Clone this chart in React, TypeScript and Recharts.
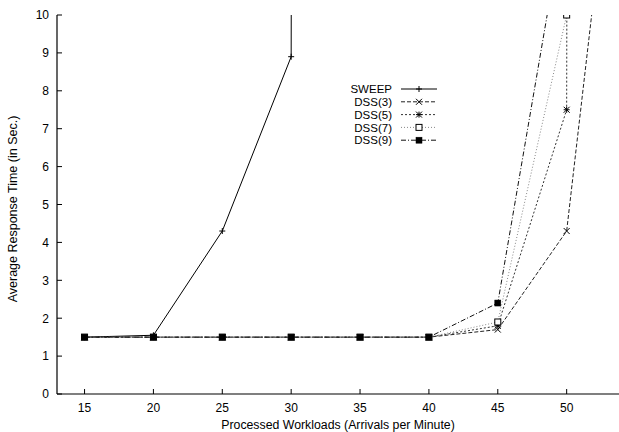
import React from 'react';
import { LineChart, Line, XAxis, YAxis, Legend } from 'recharts';

const xValues = [15, 20, 25, 30, 35, 40, 45, 50, 55];
const sweep = [1.5, 1.55, 4.3, 8.9, 1000, null, null, null, null];
const dss3 = [1.5, 1.5, 1.5, 1.5, 1.5, 1.5, 1.7, 4.3, 20];
const dss5 = [1.5, 1.5, 1.5, 1.5, 1.5, 1.5, 1.8, 7.5, 1000];
const dss7 = [1.5, 1.5, 1.5, 1.5, 1.5, 1.5, 1.9, 10, 60];
const dss9 = [1.5, 1.5, 1.5, 1.5, 1.5, 1.5, 2.4, 13, null];
const xTicks = [15, 20, 25, 30, 35, 40, 45, 50];
const yTicks = [0, 1, 2, 3, 4, 5, 6, 7, 8, 9, 10];

const data = xValues.map((x, i) => ({
  x,
  sweep: sweep[i],
  dss3: dss3[i],
  dss5: dss5[i],
  dss7: dss7[i],
  dss9: dss9[i],
}));

const FONT = '"Liberation Sans", Arial, sans-serif';

type MarkerKind = 'plus' | 'cross' | 'star' | 'openSquare' | 'square';

const drawMarker = (kind: MarkerKind, cx: number, cy: number, key?: string) => {
  const s = 3;
  switch (kind) {
    case 'plus':
      return (
        <g key={key}>
          <line x1={cx - s} y1={cy} x2={cx + s} y2={cy} stroke="#000" strokeWidth={1} />
          <line x1={cx} y1={cy - s} x2={cx} y2={cy + s} stroke="#000" strokeWidth={1} />
        </g>
      );
    case 'cross':
      return (
        <g key={key}>
          <line x1={cx - s} y1={cy - s} x2={cx + s} y2={cy + s} stroke="#000" strokeWidth={1} />
          <line x1={cx - s} y1={cy + s} x2={cx + s} y2={cy - s} stroke="#000" strokeWidth={1} />
        </g>
      );
    case 'star':
      return (
        <g key={key}>
          <line x1={cx - s} y1={cy - s} x2={cx + s} y2={cy + s} stroke="#000" strokeWidth={1} />
          <line x1={cx - s} y1={cy + s} x2={cx + s} y2={cy - s} stroke="#000" strokeWidth={1} />
          <line x1={cx - s} y1={cy} x2={cx + s} y2={cy} stroke="#000" strokeWidth={1} />
          <line x1={cx} y1={cy - s} x2={cx} y2={cy + s} stroke="#000" strokeWidth={1} />
        </g>
      );
    case 'openSquare':
      return <rect key={key} x={cx - s} y={cy - s} width={2 * s} height={2 * s} fill="#fff" stroke="#000" strokeWidth={1} />;
    case 'square':
    default:
      return <rect key={key} x={cx - s} y={cy - s} width={2 * s} height={2 * s} fill="#000" stroke="#000" strokeWidth={0.5} />;
  }
};

const makeDot = (kind: MarkerKind) => (props: any) => {
  const { cx, cy, value, index } = props;
  if (value == null || cx == null || cy == null || value > 10.05) return <g key={`e${index}`} />;
  return drawMarker(kind, cx, cy, `d${kind}${index}`);
};

const series = [
  { key: 'sweep', name: 'SWEEP', dash: undefined as string | undefined, color: '#000', marker: 'plus' as MarkerKind },
  { key: 'dss3', name: 'DSS(3)', dash: '4 2', color: '#222', marker: 'cross' as MarkerKind },
  { key: 'dss5', name: 'DSS(5)', dash: '2 2', color: '#333', marker: 'star' as MarkerKind },
  { key: 'dss7', name: 'DSS(7)', dash: '1 2', color: '#888', marker: 'openSquare' as MarkerKind },
  { key: 'dss9', name: 'DSS(9)', dash: '5 2 1 2', color: '#111', marker: 'square' as MarkerKind },
];

const LeftTick = (props: any) => {
  const { x, y, payload } = props;
  return (
    <g>
      <line x1={x} y1={y} x2={x + 5} y2={y} stroke="#000" strokeWidth={1} />
      <text x={x - 8} y={y + 4.3} textAnchor="end" fontSize={12} fontFamily={FONT} fill="#000">
        {payload.value}
      </text>
    </g>
  );
};

const RightTick = (props: any) => {
  const { x, y } = props;
  return <line x1={x} y1={y} x2={x - 5} y2={y} stroke="#000" strokeWidth={1} />;
};

const BottomTick = (props: any) => {
  const { x, y, payload } = props;
  return (
    <g>
      <line x1={x} y1={y} x2={x} y2={y - 5} stroke="#000" strokeWidth={1} />
      <text x={x} y={y + 18} textAnchor="middle" fontSize={12} fontFamily={FONT} fill="#000">
        {payload.value}
      </text>
    </g>
  );
};

const TopTick = (props: any) => {
  const { x, y } = props;
  return <line x1={x} y1={y} x2={x} y2={y + 5} stroke="#000" strokeWidth={1} />;
};

const XLabel = () => (
  <text x={338} y={429} textAnchor="middle" fontSize={12.3} fontFamily={FONT} fill="#000">
    Processed Workloads (Arrivals per Minute)
  </text>
);

const YLabel = () => (
  <text x={17} y={209} transform="rotate(-90 17 209)" textAnchor="middle" fontSize={12.5} fontFamily={FONT} fill="#000">
    Average Response Time (in Sec.)
  </text>
);

const LegendContent = () => (
  <svg width={130} height={70} style={{ overflow: 'visible' }}>
    {series.map((s, i) => {
      const y = 6 + i * 12.8;
      return (
        <g key={s.key}>
          <text x={62} y={y + 4.2} textAnchor="end" fontSize={11.5} fontFamily={FONT} fill="#000">
            {s.name}
          </text>
          <line x1={71} y1={y} x2={107} y2={y} stroke={s.color} strokeWidth={1} strokeDasharray={s.dash} />
          {drawMarker(s.marker, 89, y)}
        </g>
      );
    })}
  </svg>
);

export default function App() {
  return (
    <div style={{ position: 'absolute', left: 0, top: 0, width: 619, height: 432, background: '#fff' }}>
      <LineChart width={619} height={432} data={data} margin={{ top: 15, right: 0, bottom: 0, left: 0 }}>
        <XAxis
          dataKey="x"
          type="number"
          domain={[13, 53.8]}
          ticks={xTicks}
          allowDataOverflow
          height={38}
          tickSize={0}
          tickMargin={0}
          tick={<BottomTick />}
          axisLine={{ stroke: '#000', strokeWidth: 1.2 }}
          tickLine={false}
          interval={0}
          label={<XLabel />}
        />
        <XAxis
          xAxisId="top"
          orientation="top"
          dataKey="x"
          type="number"
          domain={[13, 53.8]}
          ticks={xTicks}
          allowDataOverflow
          height={0}
          tickSize={0}
          tickMargin={0}
          tick={<TopTick />}
          axisLine={{ stroke: '#000', strokeWidth: 1.2 }}
          tickLine={false}
          interval={0}
        />
        <YAxis
          type="number"
          domain={[0, 10]}
          ticks={yTicks}
          allowDataOverflow
          width={57}
          tickSize={0}
          tickMargin={0}
          tick={<LeftTick />}
          axisLine={{ stroke: '#000', strokeWidth: 1.2 }}
          tickLine={false}
          interval={0}
          label={<YLabel />}
        />
        <YAxis
          yAxisId="right"
          orientation="right"
          type="number"
          domain={[0, 10]}
          ticks={yTicks}
          allowDataOverflow
          width={0}
          tickSize={0}
          tickMargin={0}
          tick={<RightTick />}
          axisLine={{ stroke: '#000', strokeWidth: 1.2 }}
          tickLine={false}
          interval={0}
        />
        <Legend
          layout="horizontal"
          verticalAlign="middle"
          align="center"
          content={<LegendContent />}
          wrapperStyle={{ position: 'absolute', left: 330, top: 83, width: 130, height: 70 }}
        />
        {series.map((s) => (
          <Line
            key={s.key}
            dataKey={s.key}
            name={s.name}
            stroke={s.color}
            strokeWidth={1}
            strokeDasharray={s.dash}
            dot={makeDot(s.marker)}
            activeDot={false}
            connectNulls={false}
            isAnimationActive={false}
            type="linear"
          />
        ))}
      </LineChart>
    </div>
  );
}
